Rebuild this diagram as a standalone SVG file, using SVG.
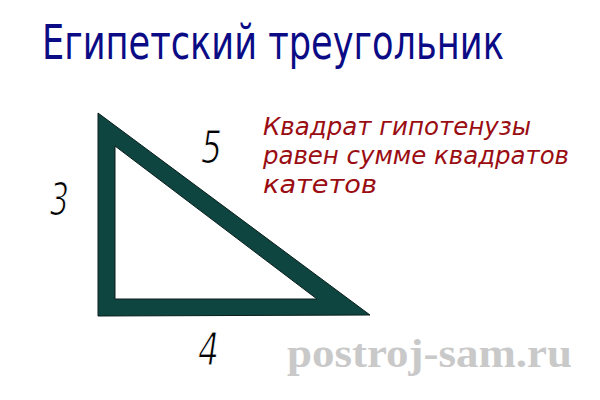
<svg xmlns="http://www.w3.org/2000/svg" width="600" height="400" viewBox="0 0 600 400">
<style>
.title{font-family:"DejaVu Sans","Liberation Sans",sans-serif;font-size:40px;fill:#0b0b86}
.note{font-family:"DejaVu Sans","Liberation Sans",sans-serif;font-style:italic;font-size:25px;fill:#9a0d12}
.num{font-family:"DejaVu Sans","Liberation Sans",sans-serif;font-style:italic;font-size:45px;fill:#000;stroke:#ffffff;stroke-width:1.2px}
.wm{font-family:"Liberation Serif","DejaVu Serif",serif;font-weight:bold;font-size:40px;fill:#c9c9c9}
</style>
<rect width="600" height="400" fill="#ffffff"/>
<g id="title"><text class="title" transform="scale(1,1.2)" x="42" y="49.2" textLength="462" lengthAdjust="spacingAndGlyphs">Египетский треугольник</text></g>
<g id="triangle">
<path d="M98,113 L98,316 L370,315 Z M115,146 L317,299 L115,299 Z" fill="#0e4540" fill-rule="evenodd" stroke="#0a1f1c" stroke-width="1"/>
</g>
<g id="labels">
<text class="num" x="50" y="215" textLength="19" lengthAdjust="spacingAndGlyphs">3</text>
<text class="num" x="201" y="163" textLength="21" lengthAdjust="spacingAndGlyphs">5</text>
<text class="num" x="198" y="365" textLength="21" lengthAdjust="spacingAndGlyphs">4</text>
</g>
<g id="note">
<text class="note" x="263" y="135" textLength="268" lengthAdjust="spacingAndGlyphs">Квадрат гипотенузы</text>
<text class="note" x="263" y="164" textLength="306" lengthAdjust="spacingAndGlyphs">равен сумме квадратов</text>
<text class="note" x="263" y="193" textLength="114" lengthAdjust="spacingAndGlyphs">катетов</text>
</g>
<g id="watermark"><text class="wm" x="287" y="367" textLength="285" lengthAdjust="spacingAndGlyphs">postroj-sam.ru</text></g>
</svg>
